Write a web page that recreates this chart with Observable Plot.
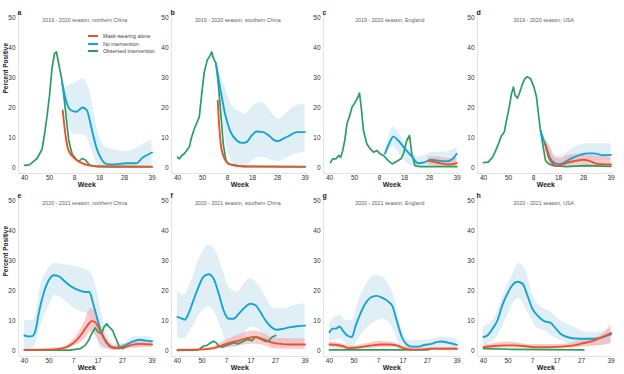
<!DOCTYPE html>
<html><head><meta charset="utf-8">
<script src="https://cdn.jsdelivr.net/npm/d3@7"></script>
<script src="https://cdn.jsdelivr.net/npm/@observablehq/plot@0.6"></script>
<style>
body{margin:0;background:#fff;}
#root{position:relative;width:624px;height:374px;overflow:hidden;font-family:"Liberation Sans",Arial,sans-serif;}
.panel{position:absolute;}
.legend{position:absolute;left:88px;top:32px;font-size:5.3px;color:#444;}
.legend div{display:flex;align-items:center;height:7.8px;white-space:nowrap;}
.legend span.sw{display:inline-block;width:10px;height:2px;margin-right:5px;}
</style></head><body><div id="root"></div>
<script>
// ---- tick labels (season weeks, index = weeks since week 40) ----
const ticks1920 = [0, 10, 20, 30, 40, 51];
const tickLabels1920 = ["40", "50", "8", "18", "28", "39"];
const ticks2021 = [0, 10, 20, 30, 40, 52];
const tickLabels2021 = ["40", "50", "7", "17", "27", "39"];
const yTicks = [0, 10, 20, 30, 40, 50];

const seriesNames = ["Mask-wearing alone", "No intervention", "Observed intervention"];
const colRed = "#e9522a", colBlue = "#17a4d3", colGreen = "#2a9e62";

// ---- a: 2019-2020 northern China ----  [week index, value] / [week index, low, high]
const greenA = [[0,0.7],[1,0.8],[2,0.9],[3,1.6],[4,2.3],[5,3],[6,4.5],[7,6],[8,11],[9,17],[10,24],[11,33],[12,38],[12.8,38.5],[13.7,34.5],[15,29],[16,22],[16.8,15.7],[17.7,9],[19,4.6],[20.4,3],[21.7,2],[23,3],[24.4,2.5],[26,0.8],[29,0.3],[35,0.2],[51,0.2]];
const blueA = [[15,28.5],[16.7,22],[18.7,19],[20.7,18.6],[23.3,20],[25,19],[26.7,13.5],[28.7,6.8],[30.7,2.9],[32.7,1.2],[35.3,1],[40.7,1.4],[44.7,1.4],[47.3,3.3],[51,5]];
const redA = [[15.3,19],[16,13.5],[16.7,9],[17.6,5.7],[19.3,3.6],[22.4,1.7],[25.7,0.7],[30,0.4],[51,0.3]];
const blueBandA = [[15,28,29],[16,23,27],[17,17,27],[18,13,27.5],[20,11,28],[22,11,29],[23.5,11,29.7],[25,10,28],[26.5,7,24],[28,3,17],[30,0.3,10],[32,0,7],[35,0,6],[38,0,5.5],[42,0,5.5],[45,0,6.5],[48,0,8],[51,0,9]];

// ---- b: 2019-2020 southern China ----
const greenB = [[0,3.4],[0.8,2.9],[1.7,4],[2.7,4.6],[3.7,5.7],[4.7,6.8],[5.6,10],[7,13.5],[8.7,16.8],[9.7,24.6],[10.7,31.8],[11.9,35.8],[13,37.3],[13.7,38.5],[14.3,36.6],[15.4,34.6],[16.3,28],[17.3,18],[18.3,7.9],[19.4,2.3],[20.3,1.2],[21.7,1],[24,0.6],[26.3,0.3],[51,0.2]];
const blueB = [[15.4,34.6],[17,26.8],[19,18],[21,12.3],[23.7,9],[25.7,8.2],[27.7,8.5],[29.7,10.7],[31.7,12],[34.3,11.8],[37,10.3],[39,9],[40.3,8.8],[42.3,9.6],[45,10.7],[47.7,11.8],[51,11.8]];
const redB = [[16.1,22.3],[16.7,13.5],[17.3,7.9],[18.3,4],[19.7,1.8],[22.3,0.7],[26,0.4],[51,0.3]];
const blueBandB = [[15.4,34,35],[17,22,31],[19,10,27],[21,3.4,22],[23,0.5,19.5],[25,0.3,18.5],[27,0.5,17.8],[29,1.5,19.4],[31,3,21],[33,3.4,21.7],[35.7,3,20.6],[38,2.3,17.8],[40.7,2,16.1],[43.3,3,17.8],[47.3,4.5,20.6],[51,5,21]];

// ---- c: 2019-2020 England ----
const greenC = [[0.4,1.6],[1.3,2.9],[2.6,2.9],[3.7,4],[4.5,3.4],[5.3,5.7],[6.1,9],[7,14.6],[7.9,16.8],[9,20.1],[10.3,21.8],[11.4,23.5],[12,24.8],[12.7,20],[13.6,12.3],[14.9,7.9],[16.3,6.2],[17.6,5.1],[18.9,5.7],[20.2,4.6],[21.6,4],[23.5,2.3],[25.1,1.2],[26.8,2],[28.6,2.9],[29.6,4.6],[30.9,9],[32,10.7],[32.9,4.6],[34.2,0.6],[36.2,0.3],[51,0.3]];
const blueC = [[22.2,4.6],[24.2,8.6],[25.5,10.3],[27.5,9],[30.2,6.2],[32.9,3.7],[35.5,1.4],[38.1,1.8],[40.7,2.6],[43.4,2.3],[47.3,2.1],[49.3,2.9],[50.9,4.6]];
const redC = [[39.5,2.3],[43.4,1.6],[47.3,1],[50.9,1.4]];
const blueBandC = [[22.2,4.5,4.8],[24,6,11],[25.5,6.8,13.6],[27.5,5,12],[30,2.3,8],[33,0.5,5],[35.5,0.3,3.4],[38,0.3,4],[41,0.5,5.1],[45,0.5,5.1],[48,0.7,5.5],[51,1,6.8]];
const redBandC = [[39.5,1,3.7],[44,0.3,3.5],[48,0.1,3],[51,0.3,3.2]];

// ---- d: 2019-2020 USA ----
const greenD = [[0,1.6],[1.9,1.8],[3.6,3.4],[4.9,5.7],[6,7.9],[7,10.3],[8.3,11.8],[9.2,15.7],[10.3,20.1],[11.2,24.6],[12,26.8],[12.6,24.2],[13.6,23.1],[14.5,25.1],[15.6,27.9],[16.6,29.6],[17.5,30.3],[18.8,29.6],[20.2,26.8],[21.2,23.5],[21.8,19],[22.8,12.3],[23.9,6.8],[24.8,2.3],[26.1,1.2],[28.1,0.6],[33,0.3],[41,0.6],[51,0.4]];
const blueD = [[22.8,12.3],[24.1,9],[25.5,5.7],[26.8,2.9],[28.8,1.4],[30.8,1.2],[33.5,2.3],[36.1,3.4],[38.8,4.2],[41.4,4.7],[44.1,4.7],[48.1,4.1],[51,4.2]];
const redD = [[24.8,7.8],[26.1,3.4],[27.4,1.6],[28.8,0.6],[30.8,0.8],[33.5,1.6],[36.1,2.1],[40.1,2.6],[42.7,2.1],[45.4,1.2],[51,1]];
const blueBandD = [[22.8,12,12.6],[24.1,7.5,10.7],[26.8,1.5,6.8],[29,0.3,4],[31,0.3,4],[33.5,0.8,5.1],[38,1.8,7.3],[42,2.3,7.9],[46,2.3,7.9],[51,2.3,7.9]];
const redBandD = [[24.8,6,9.5],[26.5,1.5,6.8],[28.5,0,3.5],[30.5,0,3],[33.5,0,4],[38,0,4.5],[43,0,4],[51,0,3.4]];

// ---- e: 2020-2021 northern China ----
const greenE = [[0,0.1],[10,0.1],[18.6,0.1],[22.7,0.6],[24.7,1.7],[26.1,3.3],[27.4,5.6],[28.8,7.5],[30.1,6.1],[31.5,5.6],[32.4,7.8],[33.5,8.9],[34.6,7.8],[35.9,6.7],[37.3,3.9],[38.6,1.3],[40.3,0.6]];
const blueE = [[0,5],[1.8,4.7],[3.1,4.8],[4.5,6.7],[5.8,12.3],[7.8,19],[9.9,23.4],[11.9,25.1],[13.9,24.8],[16.6,22.9],[19.3,21.2],[22,20.1],[24.7,19.5],[26.5,19.5],[27.8,16.2],[29.5,11.2],[31.5,5.6],[33.5,2.5],[35.5,1.1],[38.2,0.9],[40.9,1.7],[43.6,2.8],[47,3.6],[49.7,3.3],[52,3.1]];
const redE = [[0,0.2],[10.5,0.3],[15.9,0.8],[18.6,1.7],[21.4,3.6],[23.4,5.6],[25.4,8],[27.4,9.8],[28.8,9.5],[30.1,7.8],[32.2,4.5],[34.2,2],[36.9,0.8],[39.6,0.9],[43,1.7],[47,2.2],[52,2]];
const blueBandE = [[0,0,10],[3.8,1.1,10],[6.5,7.8,21.2],[9.9,14.5,27.3],[12.6,18.4,29],[17,16.2,28.5],[21.3,13.4,27.9],[25.4,12.3,26.8],[27.4,10,25.7],[29.5,4.5,20.1],[31.5,0.6,12.3],[33.5,0.5,6.1],[36.2,0.5,2.2],[40.3,0.5,2.2],[44.3,0.7,4.5],[48.4,1,4.7],[52,1.1,4.5]];
const redBandE = [[0,0,0.4],[15,0.3,1],[17.3,0.8,1.7],[21.4,1.8,5],[24.1,3.3,8.9],[27.2,6.1,14],[29,5,12.8],[30.8,2.2,8.9],[33.5,0.6,3.9],[36.9,0,1.5],[40,0.2,2],[44.3,0.8,2.8],[52,1.1,3]];

// ---- f: 2020-2021 southern China ----
const greenF = [[0,0],[7.9,0.1],[9.3,0.6],[10.6,1.5],[12,1.7],[13.4,2.5],[14.7,3.1],[15.8,2.6],[16.8,1.5],[18.1,1.1],[19.5,1.5],[21.6,2.2],[22.9,2.6],[24.6,2.2],[26.3,2.8],[28.4,3.7],[30.4,3.3],[31.8,4.5],[33.2,4.1],[34.5,3.6],[35.9,3],[37.2,3.3],[38.6,4.5],[40,5]];
const blueF = [[0,11.2],[1.8,10.6],[3.1,10.3],[4.5,12.3],[6.5,16.7],[8.6,21.2],[10.6,24.6],[12.7,25.4],[14.7,24],[16.8,19],[18.8,13.4],[20.9,10.6],[22.9,10.6],[25,12.3],[27,14],[29.7,15.6],[31.8,15.1],[33.8,12.8],[35.9,10],[37.9,8.1],[40.7,6.9],[43.4,7.3],[46.1,7.8],[48.8,8.1],[52,8.3]];
const redF = [[0,0.2],[9.3,0.3],[14.7,0.8],[18.1,1.7],[21.6,2.6],[25,3.3],[28.4,4.1],[31.8,4.5],[34.5,3.9],[37.9,2.8],[42,2.2],[46.1,2],[52,2]];
const blueBandF = [[0,3.9,20.1],[2.5,3.9,18.4],[5.8,7.3,23.4],[9.3,12.3,31.3],[12.7,14.5,35.2],[15.4,12.3,33.5],[18.1,6.7,27.9],[20.9,1.7,21.2],[24.3,1.1,19.5],[27.3,5,22.3],[29.7,7.8,24],[32.5,7.3,22.3],[35.9,3.3,17.9],[39.3,1.1,14],[43.4,1.1,14],[47.5,1.7,15.1],[52,2.2,15.6]];
const redBandF = [[0,0,0.4],[14.7,0.2,1.1],[18.1,0.6,2.8],[22.9,1.2,4.5],[27,1.8,5.8],[31.1,2.2,6.5],[35.2,1.7,5.6],[39.3,0.6,4.2],[46.1,0.4,3.9],[52,0.3,3.8]];

// ---- g: 2020-2021 England ----
const greenG = [[0,0.2],[10,0.2],[20,0.2],[30,0.2],[40.3,0.2]];
const blueG = [[0,6.1],[1.4,7.3],[2.7,7.3],[4.1,8],[5.4,6.7],[7.2,5],[9.2,4.5],[10.5,7.8],[12.6,12.3],[14.6,15.6],[17.3,17.9],[19.3,18.2],[21.4,17.6],[24.1,16.2],[25.7,14.7],[27.4,10],[29.5,4.5],[31.5,2],[33.5,1.3],[36.2,1.3],[38.9,1.9],[41.6,2.2],[43.6,2.8],[45.7,3],[48.4,2.6],[52,1.9]];
const redG = [[0,2],[2.4,1.9],[5.1,1.5],[7.8,0.8],[10.5,0.9],[13.9,1.3],[17.3,1.7],[20.7,2],[24.1,2],[27.4,1.7],[30.1,0.8],[33.5,0.3],[37.6,0.3],[41.6,0.6],[47,0.6],[52,0.6]];
const blueBandG = [[0,3.3,8.9],[2.4,3.5,11.2],[4.5,3.9,11.7],[6.5,2.5,10],[9.2,1.1,10],[11.9,4,16.7],[15.3,7.5,22.3],[18.6,9.5,25.1],[21.4,10.6,24.6],[24.7,8.9,21.2],[26.8,5.5,16.7],[28.8,1.5,8.9],[30.8,0.5,4.5],[33.5,0.5,3.3],[39,0.5,3.3],[45.7,0.5,4.5],[52,0.5,3.9]];
const redBandG = [[0,1.1,2.8],[5.1,0.6,2.2],[9.2,0.2,1.5],[14.6,0.6,2.2],[20,0.9,3],[25.4,1.1,2.8],[29.5,0.3,1.5],[34.9,0.1,0.8],[52,0.1,1.1]];

// ---- h: 2020-2021 USA ----
const greenH = [[0,0.6],[11.3,0.4],[24.7,0.3],[40.9,0.2]];
const blueH = [[0,4.5],[1.6,5],[3.7,7.3],[5.7,10],[7.7,15.1],[9.8,19],[11.8,21.8],[13.8,22.9],[15.9,22.3],[17.9,18.4],[19.9,14],[22,11.7],[24.7,9.8],[27.4,9.2],[29.5,7.3],[31.4,5.6],[34.1,4.5],[37.5,4],[40.9,3.9],[45,3.9],[47.7,4.2],[50.4,5],[52,5.4]];
const redH = [[0,1.1],[4.3,1.5],[8.4,1.7],[12.5,1.7],[16.5,1.5],[20.6,1.1],[26,1.1],[31.4,1.3],[36.9,1.7],[40.9,2.5],[45,3.3],[48.4,4.5],[52,5.8]];
const blueBandH = [[0,1.7,7.8],[4.3,3.3,10.6],[8.4,8.9,19],[12.5,16.2,26.2],[14.5,17.3,29],[17.2,14,26.8],[19.9,10,19],[21.3,7.8,16.5],[23.3,7,14.5],[26,6.1,13.5],[27.4,5.2,12.8],[31.4,3.3,10],[36.9,1.7,7.8],[42.3,1.7,6.1],[47.7,1.7,6.1],[52,2.8,8.9]];
const redBandH = [[0,0.6,1.7],[11.3,0.8,2.8],[17.9,0.7,2],[31.4,0.6,2],[40.9,1.1,3.6],[47.7,1.7,5],[52,2.2,7.8]];

const titles = {
  a: "2019 - 2020 season, northern China", b: "2019 - 2020 season, southern China",
  c: "2019 - 2020 season, England", d: "2019 - 2020 season, USA",
  e: "2020 - 2021 season, northern China", f: "2020 - 2021 season, southern China",
  g: "2020 - 2021 season, England", h: "2020 - 2021 season, USA"
};

const panels = [
  {id:"a", left:0,   top:0,   s:"1920", green:greenA, blue:blueA, red:redA, bb:blueBandA, rb:null},
  {id:"b", left:153, top:0,   s:"1920", green:greenB, blue:blueB, red:redB, bb:blueBandB, rb:null},
  {id:"c", left:305, top:0,   s:"1920", green:greenC, blue:blueC, red:redC, bb:blueBandC, rb:redBandC},
  {id:"d", left:459, top:0,   s:"1920", green:greenD, blue:blueD, red:redD, bb:blueBandD, rb:redBandD},
  {id:"e", left:0,   top:183, s:"2021", green:greenE, blue:blueE, red:redE, bb:blueBandE, rb:redBandE},
  {id:"f", left:153, top:183, s:"2021", green:greenF, blue:blueF, red:redF, bb:blueBandF, rb:redBandF},
  {id:"g", left:305, top:183, s:"2021", green:greenG, blue:blueG, red:redG, bb:blueBandG, rb:redBandG},
  {id:"h", left:459, top:183, s:"2021", green:greenH, blue:blueH, red:redH, bb:blueBandH, rb:redBandH}
];

const root = document.getElementById("root");
const yDomain = [-2, 51.333];

for (const p of panels) {
  const ticks = p.s === "1920" ? ticks1920 : ticks2021;
  const labels = p.s === "1920" ? tickLabels1920 : tickLabels2021;
  const xDomain = p.s === "1920" ? [-2.4, 52.2] : [-2.43, 53.2];
  const marks = [
    Plot.areaY(p.bb, {x: d => d[0], y1: d => d[1], y2: d => d[2], curve: "monotone-x", fill: "#dcedf4", fillOpacity: 0.9}),
  ];
  if (p.rb) marks.push(Plot.areaY(p.rb, {x: d => d[0], y1: d => d[1], y2: d => d[2], curve: "monotone-x", fill: "#f4a3a8", fillOpacity: 0.55}));
  marks.push(
    Plot.ruleX([xDomain[0]], {stroke: "#dcdcdc", strokeWidth: 0.8}),
    Plot.ruleY([yDomain[0]], {stroke: "#dcdcdc", strokeWidth: 0.8}),
    Plot.line(p.green, {x: d => d[0], y: d => d[1], curve: "linear", stroke: colGreen, strokeWidth: 1.7}),
    Plot.line(p.blue, {x: d => d[0], y: d => d[1], curve: "monotone-x", stroke: colBlue, strokeWidth: 1.9}),
    Plot.line(p.red, {x: d => d[0], y: d => d[1], curve: "monotone-x", stroke: colRed, strokeWidth: 1.9}),
    Plot.axisX({ticks, tickFormat: d => labels[ticks.indexOf(d)], tickSize: 0, tickPadding: 2, label: null, fill: "#333"}),
    Plot.axisY({ticks: yTicks, tickSize: 0, tickPadding: 3, label: null, fill: "#333"}),
    Plot.text(["Week"], {frameAnchor: "bottom", dy: 11.5, lineAnchor: "middle", fontWeight: "bold", fontSize: 7, fill: "#222"}),
    Plot.text([p.id], {frameAnchor: "top-left", dx: -1, dy: -0.5, textAnchor: "start", lineAnchor: "middle", fontWeight: "bold", fontSize: 7, fill: "#222"}),
    Plot.text([titles[p.id]], {frameAnchor: "top", dx: -2, dy: 7, lineAnchor: "middle", fontSize: 5.3, fill: "#6e5378"})
  );
  if (p.id === "a" || p.id === "e") {
    marks.push(Plot.text(["Percent Positive"], {frameAnchor: "left", dx: -13, rotate: -90, lineAnchor: "middle", fontWeight: "bold", fontSize: 6.5, fill: "#222"}));
  }
  const chart = Plot.plot({
    width: 156, height: 188,
    marginLeft: 18, marginRight: 1.5, marginTop: 13, marginBottom: 15,
    x: {domain: xDomain},
    y: {domain: yDomain},
    style: {fontSize: "6.5px", fontFamily: "Liberation Sans, Arial, sans-serif", color: "#333", background: "transparent", overflow: "visible"},
    marks
  });
  const wrap = document.createElement("div");
  wrap.className = "panel";
  wrap.style.left = p.left + "px";
  wrap.style.top = p.top + "px";
  wrap.appendChild(chart);
  root.appendChild(wrap);
}

// legend (panel a)
const legend = document.createElement("div");
legend.className = "legend";
[colRed, colBlue, colGreen].forEach((c, i) => {
  const row = document.createElement("div");
  const sw = document.createElement("span");
  sw.className = "sw"; sw.style.background = c;
  row.appendChild(sw);
  row.appendChild(document.createTextNode(seriesNames[i]));
  legend.appendChild(row);
});
root.appendChild(legend);
</script>
</body></html>
